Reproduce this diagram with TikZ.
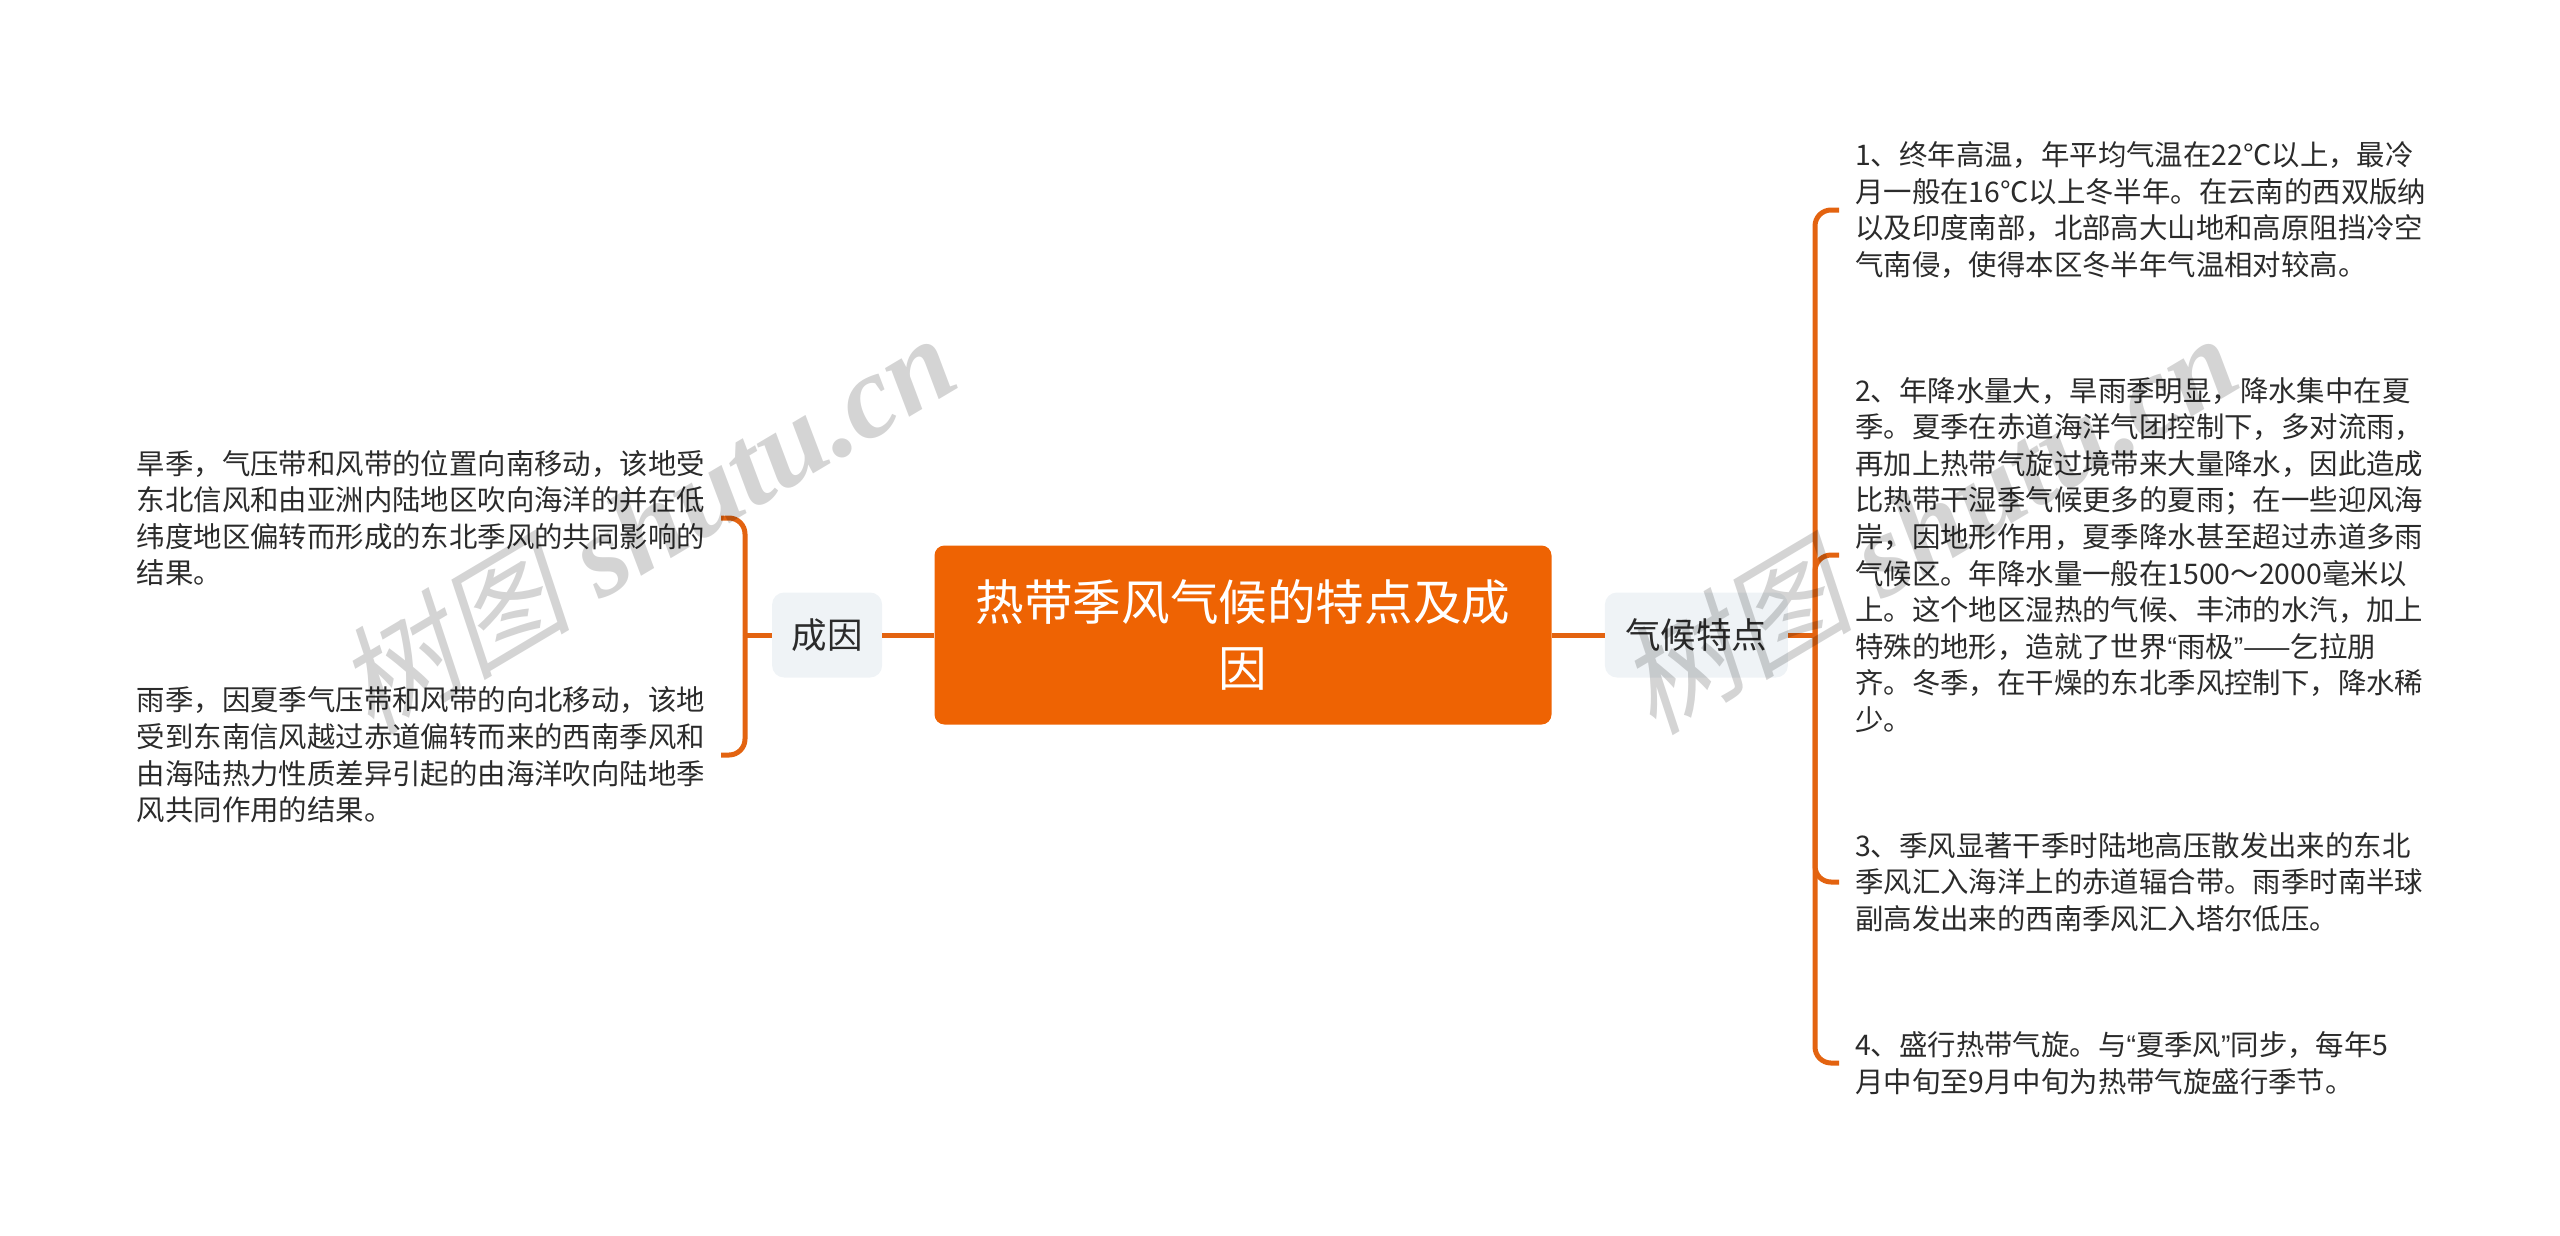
\documentclass[tikz,border=0pt]{standalone}
\usepackage{fontspec}
\usepackage{xcolor}
\usetikzlibrary{positioning}
\setmainfont{Noto Sans CJK SC}
\newfontfamily\wmlatin{Liberation Serif}
\newfontfamily\wmcjk[FakeSlant=0.22]{Noto Sans CJK SC}
\newfontfamily\quotefont{Liberation Sans}
\newcommand{\openq}{{\quotefont “}}
\newcommand{\closeq}{{\quotefont ”}}
\newcommand{\wmtext}{{\wmcjk\mdseries 树图} shutu.cn}
\definecolor{rootfill}{HTML}{EE6303}
\definecolor{linkcol}{HTML}{E36310}
\definecolor{subfill}{HTML}{EFF3F6}
\definecolor{inkcol}{HTML}{2B2B2B}
\begin{document}
\begin{tikzpicture}[
        x=1pt, y=-1pt,
        root/.style={fill=rootfill, rounded corners=10pt, minimum width=617pt, minimum height=179pt, inner sep=0pt, text=white, align=center, font=\fontsize{48.6}{66}\selectfont},
        sub/.style={fill=subfill, rounded corners=12pt, minimum height=85pt, inner sep=0pt, text=inkcol, font=\fontsize{35.5}{44}\selectfont},
        leaf/.style={inner xsep=16pt, inner ysep=0pt, text=inkcol, align=left, font=\fontsize{28.4}{36.6}\selectfont},
        link/.style={draw=linkcol, line width=5pt},
        branch/.style={link, rounded corners=16pt},
        mark text/.style={text=black, opacity=.17, rotate=30.7, font=\wmlatin\itshape\bfseries\fontsize{118}{118}\selectfont}
    ]
        \useasboundingbox (0,0) rectangle (2560,1235);

        % Nodes
        \node[root] (title) at (1243,635) {热带季风气候的特点及成\\因};
        \node[sub, minimum width=110pt, left=52pt of title] (reason) {成因};
        \node[sub, minimum width=183pt, right=53pt of title] (climate) {气候特点};

        \node[leaf, anchor=east] (dry) at (721,518) {旱季，气压带和风带的位置向南移动，该地受\\东北信风和由亚洲内陆地区吹向海洋的并在低\\纬度地区偏转而形成的东北季风的共同影响的\\结果。};
        \node[leaf, anchor=east] (wet) at (721,755) {雨季，因夏季气压带和风带的向北移动，该地\\受到东南信风越过赤道偏转而来的西南季风和\\由海陆热力性质差异引起的由海洋吹向陆地季\\风共同作用的结果。};

        \node[leaf, anchor=west] (heat) at (1839,210) {1、终年高温，年平均气温在22℃以上，最冷\\月一般在16℃以上冬半年。在云南的西双版纳\\以及印度南部，北部高大山地和高原阻挡冷空\\气南侵，使得本区冬半年气温相对较高。};
        \node[leaf, anchor=west] (rain) at (1839,555) {2、年降水量大，旱雨季明显，降水集中在夏\\季。夏季在赤道海洋气团控制下，多对流雨，\\再加上热带气旋过境带来大量降水，因此造成\\比热带干湿季气候更多的夏雨；在一些迎风海\\岸，因地形作用，夏季降水甚至超过赤道多雨\\气候区。年降水量一般在1500～2000毫米以\\上。这个地区湿热的气候、丰沛的水汽，加上\\特殊的地形，造就了世界\openq 雨极\closeq ——乞拉朋\\齐。冬季，在干燥的东北季风控制下，降水稀\\少。};
        \node[leaf, anchor=west] (monsoon) at (1839,882) {3、季风显著干季时陆地高压散发出来的东北\\季风汇入海洋上的赤道辐合带。雨季时南半球\\副高发出来的西南季风汇入塔尔低压。};
        \node[leaf, anchor=west] (cyclone) at (1839,1063) {4、盛行热带气旋。与\openq 夏季风\closeq 同步，每年5\\月中旬至9月中旬为热带气旋盛行季节。};

        \coordinate (busL) at (745,635);
        \coordinate (busR) at (1815,635);

        % Links
        \draw[link] (title) -- (reason);
        \draw[link] (title) -- (climate);
        \draw[link] (reason) -- (busL);
        \draw[link] (climate) -- (busR);
        \foreach \leafname in {dry, wet}
            \draw[branch] (busL) |- (\leafname.east);
        \foreach \leafname in {heat, rain, monsoon, cyclone}
            \draw[branch] (busR) |- (\leafname.west);

        % Watermark
        \node[mark text] (markA) at (645,522) {\wmtext};
        \node[mark text] (markB) at (1927,522) {\wmtext};
    \end{tikzpicture}
\end{document}
